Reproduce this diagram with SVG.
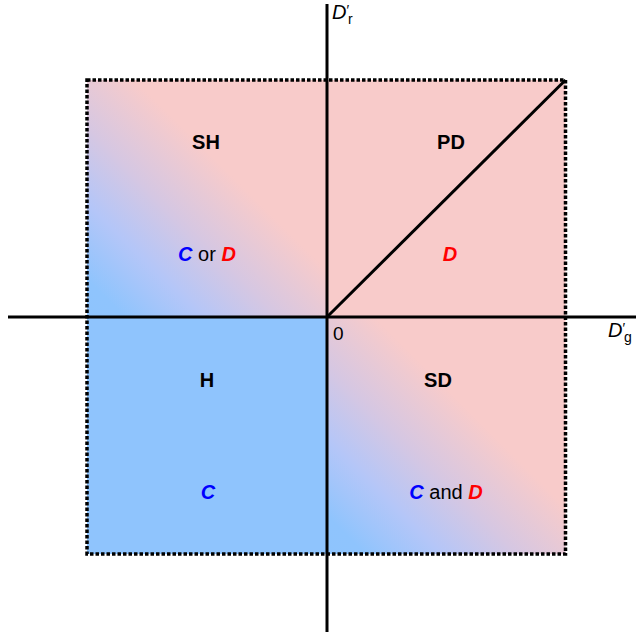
<svg xmlns="http://www.w3.org/2000/svg" width="636" height="635" viewBox="0 0 636 635">
  <defs>
    <linearGradient id="mix" x1="0" y1="1" x2="1" y2="0">
      <stop offset="0" stop-color="#8ec4fd"/>
      <stop offset="0.08" stop-color="#8fc4fd"/>
      <stop offset="0.24" stop-color="#b4c6f8"/>
      <stop offset="0.4" stop-color="#d6c7e2"/>
      <stop offset="0.6" stop-color="#f8cbca"/>
      <stop offset="1" stop-color="#f8cbca"/>
    </linearGradient>
  </defs>
  <style>
    .lbl { font-family: "Liberation Sans", Arial, sans-serif; font-size: 20px; font-weight: bold; fill: #000; text-anchor: middle; }
    .txt { font-family: "Liberation Sans", Arial, sans-serif; font-size: 20px; fill: #000; text-anchor: middle; }
    .c { font-weight: bold; font-style: italic; fill: #0000ff; }
    .d { font-weight: bold; font-style: italic; fill: #ff0000; }
    .ax { stroke: #000; stroke-width: 3; fill: none; }
    .axl { font-family: "Liberation Sans", Arial, sans-serif; fill: #000; }
  </style>
  <rect width="636" height="635" fill="#ffffff"/>
  <g id="SH">
    <rect x="87" y="80" width="240" height="237" fill="url(#mix)"/>
    <text class="lbl" x="206" y="149">SH</text>
    <text class="txt" x="207" y="261"><tspan class="c">C</tspan> or <tspan class="d">D</tspan></text>
  </g>
  <g id="PD">
    <rect x="327" y="80" width="238.5" height="237" fill="#f8cbca"/>
    <text class="lbl" x="451" y="149">PD</text>
    <text class="txt" x="450" y="261"><tspan class="d">D</tspan></text>
  </g>
  <g id="H">
    <rect x="87" y="317" width="240" height="237" fill="#8fc4fd"/>
    <text class="lbl" x="207" y="387">H</text>
    <text class="txt" x="208" y="499"><tspan class="c">C</tspan></text>
  </g>
  <g id="SD">
    <rect x="327" y="317" width="238.5" height="237" fill="url(#mix)"/>
    <text class="lbl" x="438" y="387">SD</text>
    <text class="txt" x="446" y="499"><tspan class="c">C</tspan> and <tspan class="d">D</tspan></text>
  </g>
  <g id="border">
    <rect x="87" y="80" width="478.5" height="474" fill="none" stroke="#000" stroke-width="3.5" stroke-dasharray="3.5 2"/>
  </g>
  <g id="connectors">
    <line class="ax" x1="8" y1="317" x2="636" y2="317"/>
    <line class="ax" x1="327" y1="4" x2="327" y2="632"/>
    <line class="ax" x1="327" y1="317" x2="565.5" y2="80"/>
  </g>
  <g id="axis-labels">
    <text class="axl" x="333" y="340" font-size="19">0</text>
    <text class="axl" x="332" y="19" font-size="20"><tspan font-style="italic">D</tspan><tspan font-size="14" dy="-4">′</tspan><tspan font-size="14" dx="-1" dy="9">r</tspan></text>
    <text class="axl" x="608" y="337" font-size="20"><tspan font-style="italic">D</tspan><tspan font-size="14" dy="-4">′</tspan><tspan font-size="14" dx="-1" dy="9">g</tspan></text>
  </g>
</svg>
